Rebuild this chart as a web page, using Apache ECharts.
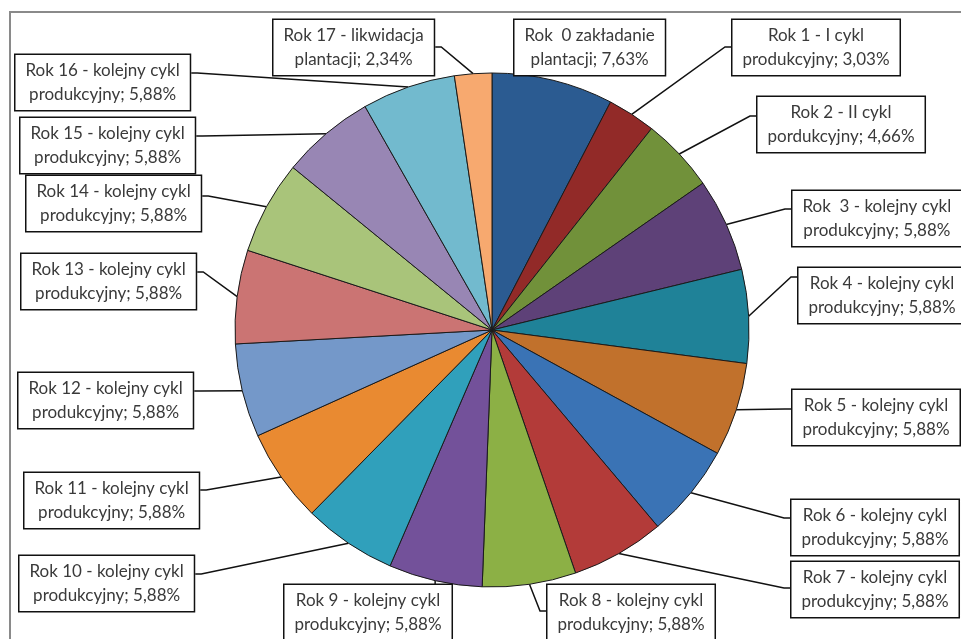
<!DOCTYPE html>
<html>
<head>
<meta charset="utf-8">
<script src="https://cdn.jsdelivr.net/npm/echarts@6/dist/echarts.min.js"></script>
<style>
html,body{margin:0;padding:0;background:#fff;}
#main{width:961px;height:639px;}
</style>
</head>
<body>
<div id="main"></div>
<script>
// ---- data ----
var categories = [
  "Rok  0 zakładanie\nplantacji",
  "Rok 1 - I cykl\nprodukcyjny",
  "Rok 2 - II cykl\npordukcyjny",
  "Rok  3 - kolejny cykl\nprodukcyjny",
  "Rok 4 - kolejny cykl\nprodukcyjny",
  "Rok 5 - kolejny cykl\nprodukcyjny",
  "Rok 6 - kolejny cykl\nprodukcyjny",
  "Rok 7 - kolejny cykl\nprodukcyjny",
  "Rok 8 - kolejny cykl\nprodukcyjny",
  "Rok 9 - kolejny cykl\nprodukcyjny",
  "Rok 10 - kolejny cykl\nprodukcyjny",
  "Rok 11 - kolejny cykl\nprodukcyjny",
  "Rok 12 - kolejny cykl\nprodukcyjny",
  "Rok 13 - kolejny cykl\nprodukcyjny",
  "Rok 14 - kolejny cykl\nprodukcyjny",
  "Rok 15 - kolejny cykl\nprodukcyjny",
  "Rok 16 - kolejny cykl\nprodukcyjny",
  "Rok 17 - likwidacja\nplantacji"
];
var shares = [7.63, 3.03, 4.66, 5.88, 5.88, 5.88, 5.88, 5.88, 5.88, 5.88, 5.88, 5.88, 5.88, 5.88, 5.88, 5.88, 5.88, 2.34];

// ---- styles / layout ----
var colors = ["#2B5B91","#922A28","#71913A","#5E4178","#1F8298","#C1712C","#3A73B5","#B33B39","#8CB045","#73519A","#30A0BB","#E98A31","#7498C9","#CB7473","#A9C47A","#9886B4","#72BACE","#F7A96F"];
// label box top-left positions (x, y)
var boxPos = [[513,20],[731,20],[756,97],[791,191],[797,268],[791,390],[790,500],[790,562],[546,585],[283,585],[18,556],[23,473],[17,373],[20,254],[25,176],[19,118],[14,55],[272,20]];
// leader line attach side and y offset inside the box
var attachSide = ['N','L','L','L','L','L','L','L','L','T','R','R','R','R','R','R','R','R'];
var attachOff = [0,27,19,18,9,19,18,26,26,0,18,17,18,18,20,18,18,27];
var CX = 492, CY = 330, R = 257;

var total = shares.reduce(function(a,b){return a+b;},0);
function anchorFor(i){
  var cum = 0;
  for (var k=0;k<i;k++) cum += shares[k];
  var ang = (cum + shares[i]/2)/total*2*Math.PI;
  return [CX + R*Math.sin(ang), CY - R*Math.cos(ang)];
}

var chart = echarts.init(document.getElementById('main'), null, {renderer:'canvas'});
var option = {
  backgroundColor: '#ffffff',
  animation: false,
  color: colors,
  graphic: [{
    type: 'rect',
    shape: {x: 10, y: 12, width: 1000, height: 700},
    style: {fill: 'none', stroke: '#8a8a8a', lineWidth: 2},
    silent: true, z: -10
  }],
  series: [{
    type: 'pie',
    center: [CX, CY],
    radius: [0, R],
    startAngle: 90,
    clockwise: true,
    avoidLabelOverlap: false,
    data: categories.map(function(c,i){ return {name: c, value: shares[i]}; }),
    itemStyle: {borderColor: '#1a1a1a', borderWidth: 1},
    label: {
      show: true,
      position: 'outside',
      formatter: function(p){ return p.name + '; ' + p.value.toFixed(2).replace('.', ',') + '%'; },
      fontFamily: 'Lato, "Open Sans", sans-serif',
      fontSize: 17,
      lineHeight: 24,
      color: '#3a3a3a',
      align: 'center',
      backgroundColor: '#ffffff',
      borderColor: '#111111',
      borderWidth: 1.5,
      padding: [4, 10, 3, 10]
    },
    labelLine: {show: true, length: 10, length2: 10, lineStyle: {color: '#111111', width: 1.5}},
    labelLayout: function(params){
      var i = params.dataIndex;
      var bx = boxPos[i][0], by = boxPos[i][1];
      var w = params.labelRect.width, h = params.labelRect.height;
      var a = (params.labelLinePoints && params.labelLinePoints[0]) ? params.labelLinePoints[0] : anchorFor(i);
      var pts;
      var side = attachSide[i];
      if (side === 'L') {
        var ey = by + attachOff[i];
        pts = [a, [bx - 6, ey], [bx, ey]];
      } else if (side === 'R') {
        var ey2 = by + attachOff[i];
        pts = [a, [bx + w + 6, ey2], [bx + w, ey2]];
      } else if (side === 'T') {
        pts = [a, [a[0], by], [a[0], by]];
      } else {
        pts = [a, a, a];
      }
      return {
        x: bx + w/2,
        y: by,
        align: 'center',
        verticalAlign: 'top',
        labelLinePoints: pts
      };
    }
  }]
};
chart.setOption(option);
</script>
</body>
</html>
